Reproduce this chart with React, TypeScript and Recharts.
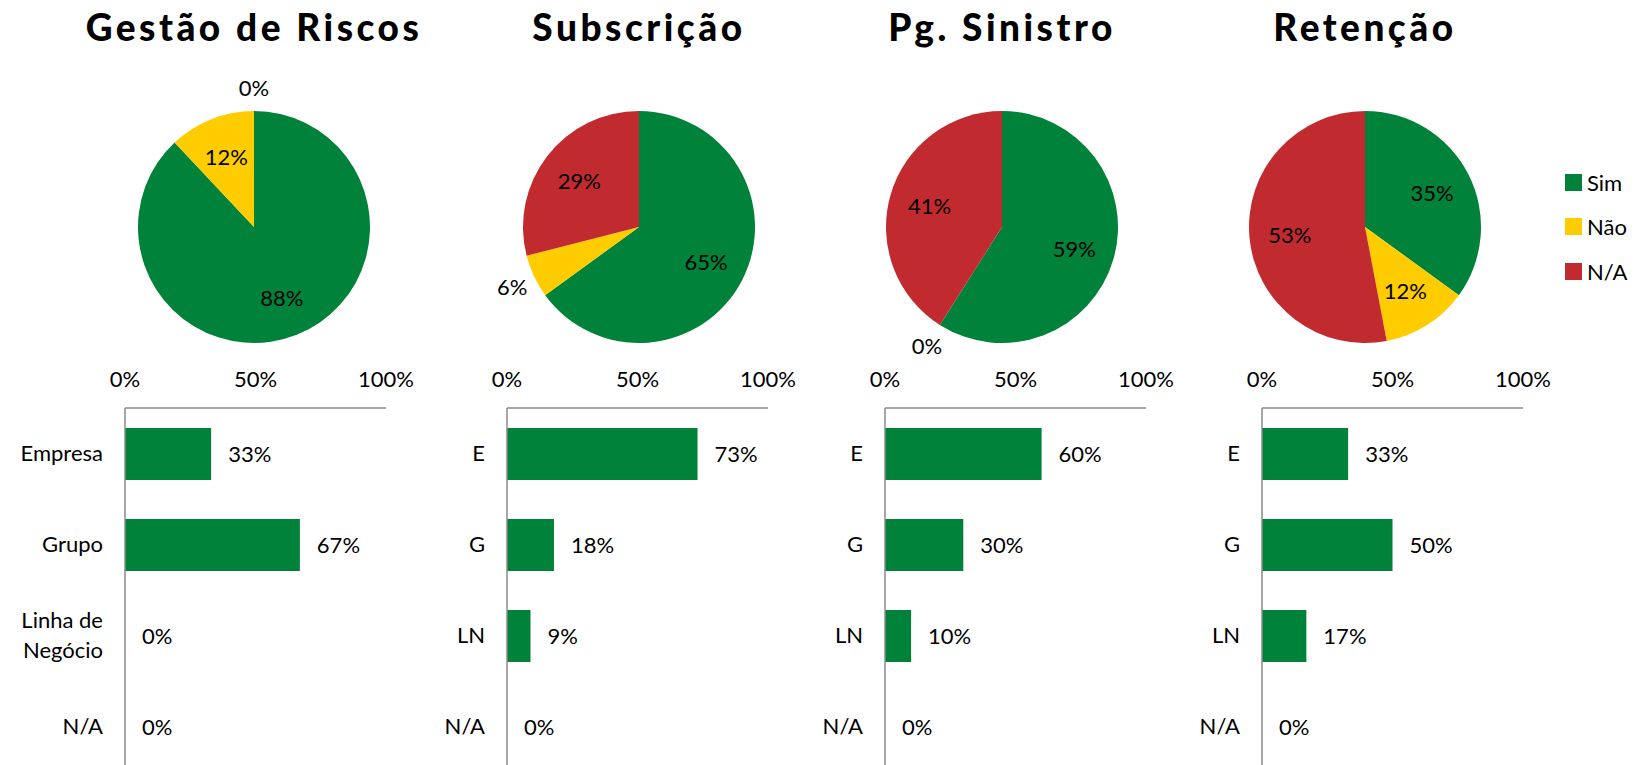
import React from "react";
import { PieChart, Pie, Cell, Legend, BarChart, Bar, XAxis, YAxis, LabelList } from "recharts";

// ---------- data ----------
const seriesNames = ["Sim", "Não", "N/A"];
const panelTitles = ["Gestão de Riscos", "Subscrição", "Pg. Sinistro", "Retenção"];

const gestaoPie = [88, 12, 0];
const subscricaoPie = [65, 6, 29];
const sinistroPie = [59, 0, 41];
const retencaoPie = [35, 12, 53];

const gestaoCategories = ["Empresa", "Grupo", "Linha de Negócio", "N/A"];
const shortCategories = ["E", "G", "LN", "N/A"];

const gestaoBars = [33, 67, 0, 0];
const subscricaoBars = [73, 18, 9, 0];
const sinistroBars = [60, 30, 10, 0];
const retencaoBars = [33, 50, 17, 0];

const axisTicks = [0, 50, 100];

// ---------- style / layout ----------
const FONT = "Lato, 'Noto Sans', sans-serif";
const seriesColors = ["#00823B", "#FFCC00", "#C12B30"];
const AXIS_GRAY = "#8a8a8a";
const pieCenters = [254, 639, 1002, 1365];
const barAxisX = [125, 507, 885, 1262];
const PIE_CY = 227;
const PIE_R = 116;
const PIE_W = 380;
const Y_AXIS_W = 120;
const PLOT_W = 261;
const BAR_RIGHT = 80;
const X_AXIS_H = 60;
const PLOT_H = 364;
const BAR_TOP = 408 - X_AXIS_H;
const WRAP_CHARS = 10;
const LINE_H = 30;

const pieValues = [gestaoPie, subscricaoPie, sinistroPie, retencaoPie];
const barValues = [gestaoBars, subscricaoBars, sinistroBars, retencaoBars];
const barCategories = [gestaoCategories, shortCategories, shortCategories, shortCategories];

const RAD = Math.PI / 180;

const renderPieLabel = (props: any) => {
  const { cx, cy, midAngle, outerRadius, value } = props;
  const r = value < 8 ? outerRadius + 24 : outerRadius * 0.65;
  const x = cx + r * Math.cos(-midAngle * RAD);
  const y = cy + r * Math.sin(-midAngle * RAD);
  return (
    <text
      x={x}
      y={y}
      textAnchor="middle"
      dominantBaseline="central"
      fontFamily={FONT}
      fontSize={22}
      fill="#000"
    >
      {`${value}%`}
    </text>
  );
};

const LegendContent = (props: any) => {
  const payload = [...(props.payload || [])].sort(
    (a: any, b: any) => seriesNames.indexOf(a.value) - seriesNames.indexOf(b.value)
  );
  return (
    <div style={{ fontFamily: FONT, fontSize: 22, color: "#000" }}>
      {payload.map((entry: any, i: number) => (
        <div key={i} style={{ display: "flex", alignItems: "center", height: 44.5 }}>
          <span
            style={{
              display: "inline-block",
              width: 17,
              height: 17,
              background: entry.color,
              marginRight: 5,
            }}
          />
          <span>{entry.value}</span>
        </div>
      ))}
    </div>
  );
};

const wrapWords = (s: string): string[] => {
  const words = String(s).split(" ");
  const lines: string[] = [];
  let cur = "";
  for (const w of words) {
    const cand = cur ? cur + " " + w : w;
    if (cand.length > WRAP_CHARS && cur) {
      lines.push(cur);
      cur = w;
    } else {
      cur = cand;
    }
  }
  if (cur) lines.push(cur);
  return lines;
};

const CategoryTick = (props: any) => {
  const { x, y, payload } = props;
  const lines = wrapWords(payload.value);
  const n = lines.length;
  return (
    <text textAnchor="end" fontFamily={FONT} fontSize={22} fill="#000">
      {lines.map((ln, i) => (
        <tspan key={i} x={x} y={y + (i - (n - 1) / 2) * LINE_H} dy="0.36em">
          {ln}
        </tspan>
      ))}
    </text>
  );
};

const Panel = ({ idx }: { idx: number }) => {
  const pieData = seriesNames.map((name, i) => ({ name, value: pieValues[idx][i] }));
  const barData = barCategories[idx].map((cat, i) => ({ cat, value: barValues[idx][i] }));
  const isLast = idx === 3;
  const pieLeft = pieCenters[idx] - PIE_W / 2;
  const pieWidth = isLast ? 1637 - pieLeft : PIE_W;
  return (
    <>
      <div
        style={{
          position: "absolute",
          left: pieCenters[idx] - 250,
          width: 500,
          top: 9,
          textAlign: "center",
          fontFamily: FONT,
          fontWeight: 900,
          fontSize: 37,
          lineHeight: "36px",
          letterSpacing: 3.5,
          color: "#000",
          whiteSpace: "nowrap",
        }}
      >
        {panelTitles[idx]}
      </div>
      <div style={{ position: "absolute", left: pieLeft, top: 0 }}>
        <PieChart width={pieWidth} height={400} margin={{ top: 0, right: 0, bottom: 0, left: 0 }}>
          <Pie
            data={pieData}
            dataKey="value"
            nameKey="name"
            cx={PIE_W / 2}
            cy={PIE_CY}
            outerRadius={PIE_R}
            startAngle={90}
            endAngle={-270}
            stroke="none"
            labelLine={false}
            label={renderPieLabel}
            isAnimationActive={false}
          >
            {pieData.map((d, i) => (
              <Cell key={d.name} fill={seriesColors[i]} />
            ))}
          </Pie>
          {isLast && (
            <Legend
              layout="vertical"
              align="right"
              verticalAlign="top"
              content={<LegendContent />}
              wrapperStyle={{ left: 1565 - pieLeft, top: 160, width: 80 }}
            />
          )}
        </PieChart>
      </div>
      <div style={{ position: "absolute", left: barAxisX[idx] - Y_AXIS_W, top: BAR_TOP }}>
        <BarChart
          width={Y_AXIS_W + PLOT_W + BAR_RIGHT}
          height={X_AXIS_H + PLOT_H}
          data={barData}
          layout="vertical"
          margin={{ top: 0, right: BAR_RIGHT, bottom: 0, left: 0 }}
        >
          <XAxis
            type="number"
            orientation="top"
            domain={[0, 100]}
            ticks={axisTicks}
            tickFormatter={(v: number) => `${v}%`}
            height={X_AXIS_H}
            axisLine={{ stroke: AXIS_GRAY, strokeWidth: 1.5 }}
            tickLine={false}
            tickSize={0}
            tickMargin={21}
            tick={{ fontFamily: FONT, fontSize: 22, fill: "#000" }}
            interval={0}
          />
          <YAxis
            type="category"
            dataKey="cat"
            width={Y_AXIS_W}
            axisLine={{ stroke: AXIS_GRAY, strokeWidth: 1.5 }}
            tickLine={false}
            tickSize={0}
            tickMargin={22}
            tick={<CategoryTick />}
            interval={0}
          />
          <Bar
            dataKey="value"
            fill={seriesColors[0]}
            barSize={52}
            minPointSize={0.01}
            isAnimationActive={false}
          >
            <LabelList
              dataKey="value"
              position="right"
              offset={17}
              formatter={(v: any) => `${v}%`}
              style={{ fontFamily: FONT, fontSize: 22, fill: "#000" }}
            />
          </Bar>
        </BarChart>
      </div>
    </>
  );
};

export default function App() {
  return (
    <div
      style={{
        position: "absolute",
        left: 0,
        top: 0,
        width: 1637,
        height: 765,
        overflow: "hidden",
        background: "#fff",
      }}
    >
      {[0, 1, 2, 3].map((i) => (
        <Panel key={i} idx={i} />
      ))}
    </div>
  );
}
